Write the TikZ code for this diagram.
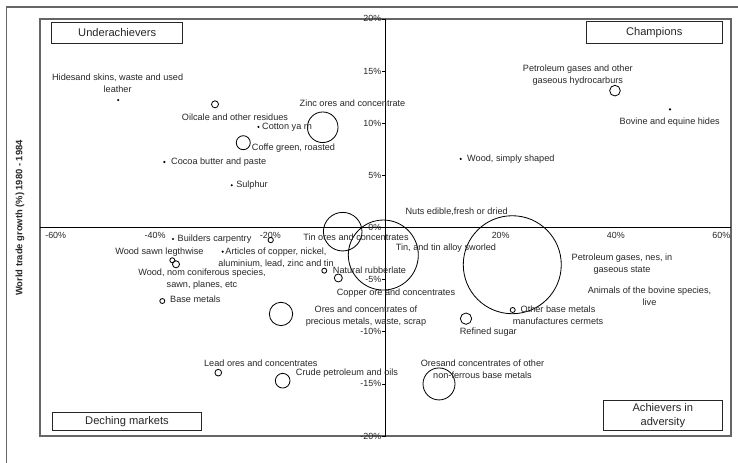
\documentclass[tikz,border=0pt]{standalone}
\usepackage{fontspec}
\setmainfont{Liberation Sans}

\begin{document}
\begin{tikzpicture}[x=0.1728cm, y=0.3129cm,
    lbl/.style={inner sep=0pt, font=\fontsize{7.8}{10.2}\selectfont, text=black!85, align=center},
    tick/.style={inner sep=0pt, font=\fontsize{7.6}{9}\selectfont, text=black!85},
    quad/.style={draw=black!85, fill=white, line width=0.7pt, inner sep=0pt, align=center,
        font=\fontsize{9.5}{11.5}\selectfont, text=black!85},
    frame/.style={draw=black!60, line width=1.2pt},
    bub/.style={draw=black, line width=0.7pt}]
    \useasboundingbox (-66.927,-22.579) rectangle (61.198,21.812);

    % Outer frame (left and top edges only)
    \draw[frame] (-65.76,-22.579) -- (-65.76,21.14) -- (61.198,21.14);

    % Plot area and axes
    \draw[frame] (-60,-20) rectangle (60,20);
    \draw[line width=0.8pt] (-60,0) -- (60,0);
    \draw[line width=0.8pt] (0,-20) -- (0,20);

    % Vertical ticks and labels
    \foreach \v in {-20,-15,...,20} {
        \draw[line width=0.5pt] (-0.55,\v) -- (0,\v);
        \node[tick, anchor=east] (yt\v) at (-0.7,\v) {\v\%};
    }
    % Horizontal labels
    \foreach \v in {-40,-20,20,40}
        \node[tick] (xt\v) at (\v,-0.75) {\v\%};
    \node[tick, anchor=west] (xtl) at (-59.1,-0.75) {-60\%};
    \node[tick, anchor=east] (xtr) at (59.9,-0.75) {60\%};

    \node[rotate=90, inner sep=0pt, font=\bfseries\fontsize{8}{10}\selectfont, text=black!85]
        (ytitle) at (-63.45,0.91) {World trade growth (\%) 1980 - 1984};

    % Quadrant boxes
    \node[quad, minimum width=3.93cm, minimum height=0.63cm] (under) at (-46.58,18.66) {Underachievers};
    \node[quad, minimum width=4.09cm, minimum height=0.66cm] (champ) at (46.65,18.68) {Champions};
    \node[quad, minimum width=4.49cm, minimum height=0.54cm] (decl) at (-44.88,-18.63) {Deching markets};
    \node[quad, minimum width=3.57cm, minimum height=0.9cm] (advers) at (48.15,-18.05) {Achievers in\\adversity};

    % Small products (dots)
    \fill (-46.4,12.22) circle (0.036cm)
          (-22.05,9.64) circle (0.036cm)
          (-38.4,6.28) circle (0.036cm)
          (-26.7,4.05) circle (0.036cm)
          (49.39,11.33) circle (0.036cm)
          (13.06,6.57) circle (0.036cm)
          (-36.89,-1.10) circle (0.036cm)
          (-28.26,-2.32) circle (0.036cm);

    % Bubbles
    \draw[bub] (-29.6,11.81) circle (0.105cm)   % oilcake
               (-10.9,9.61) circle (0.459cm)    % zinc
               (-24.69,8.13) circle (0.21cm)    % coffee
               (39.84,13.12) circle (0.16cm)    % petroleum gases
               (-7.43,-0.40) circle (0.579cm)   % tin ores
               (-0.38,-2.64) circle (1.05cm)    % tin alloy
               (22.01,-3.57) circle (1.47cm)    % largest
               (-10.63,-4.14) circle (0.075cm)
               (-8.19,-4.84) circle (0.12cm)
               (-18.14,-8.29) circle (0.35cm)   % precious metals
               (13.98,-8.74) circle (0.17cm)    % sugar
               (22.08,-7.91) circle (0.075cm)
               (-19.93,-1.20) circle (0.08cm)
               (-37.01,-3.14) circle (0.075cm)
               (-36.37,-3.53) circle (0.105cm)
               (-38.75,-7.05) circle (0.075cm)
               (-29.03,-13.92) circle (0.10cm)  % lead
               (-17.85,-14.69) circle (0.22cm)  % crude
               (9.29,-15.0) circle (0.48cm);    % non-ferrous

    % Labels
    \node[lbl] (hides) at (-46.5,13.85) {Hidesand skins, waste and used\\leather};
    \node[lbl] (oilc) at (-26.13,10.59) {Oilcale and other residues};
    \node[lbl, anchor=west] (cotton) at (-21.44,9.64) {Cotton ya rn};
    \node[lbl] (zinc) at (-5.73,11.91) {Zinc ores and concentrate};
    \node[lbl, anchor=west] (coffe) at (-23.23,7.65) {Coffe green, roasted};
    \node[lbl, anchor=west] (cocoa) at (-37.24,6.28) {Cocoa butter and paste};
    \node[lbl, anchor=west] (sulph) at (-25.95,4.05) {Sulphur};
    \node[lbl] (petgas) at (33.39,14.62) {Petroleum gases and other\\gaseous hydrocarburs};
    \node[lbl] (bovine) at (49.34,10.09) {Bovine and equine hides};
    \node[lbl, anchor=west] (woods) at (14.15,6.57) {Wood, simply shaped};
    \node[lbl] (nuts) at (12.36,1.51) {Nuts edible,fresh or dried};
    \node[lbl, anchor=west] (build) at (-36.11,-1.10) {Builders carpentry};
    \node[lbl] (sawn) at (-39.24,-2.38) {Wood sawn legthwise};
    \node[lbl] (artic) at (-19.01,-2.86) {Articles of copper, nickel,\\aluminium, lead, zinc and tin};
    \node[lbl] (nonconif) at (-31.86,-4.91) {Wood, nom coniferous species,\\sawn, planes, etc};
    \node[lbl, anchor=west] (basem) at (-37.41,-6.86) {Base metals};
    \node[lbl] (tinores) at (-5.12,-0.98) {Tin ores and concentrates};
    \node[lbl] (tinalloy) at (10.50,-1.94) {Tin, and tin alloy sworled};
    \node[lbl, anchor=west] (rubber) at (-9.17,-4.07) {Natural rubberlate};
    \node[lbl] (copper) at (1.82,-6.25) {Copper ore and concentrates};
    \node[lbl] (precious) at (-3.39,-8.49) {Ores and concentrates of\\precious metals, waste, scrap};
    \node[lbl] (sugar) at (17.85,-10.02) {Refined sugar};
    \node[lbl] (otherbase) at (29.95,-8.39) {Other base metals\\manufactures cermets};
    \node[lbl] (petnes) at (41.06,-3.50) {Petroleum gases, nes, in\\gaseous state};
    \node[lbl] (animals) at (45.83,-6.60) {Animals of the bovine species,\\live};
    \node[lbl] (lead) at (-21.65,-13.02) {Lead ores and concentrates};
    \node[lbl] (crude) at (-6.68,-13.92) {Crude petroleum and oils};
    \node[lbl] (nonfer) at (16.84,-13.55) {Oresand concentrates of other\\non-ferrous base metals};
\end{tikzpicture}
\end{document}
